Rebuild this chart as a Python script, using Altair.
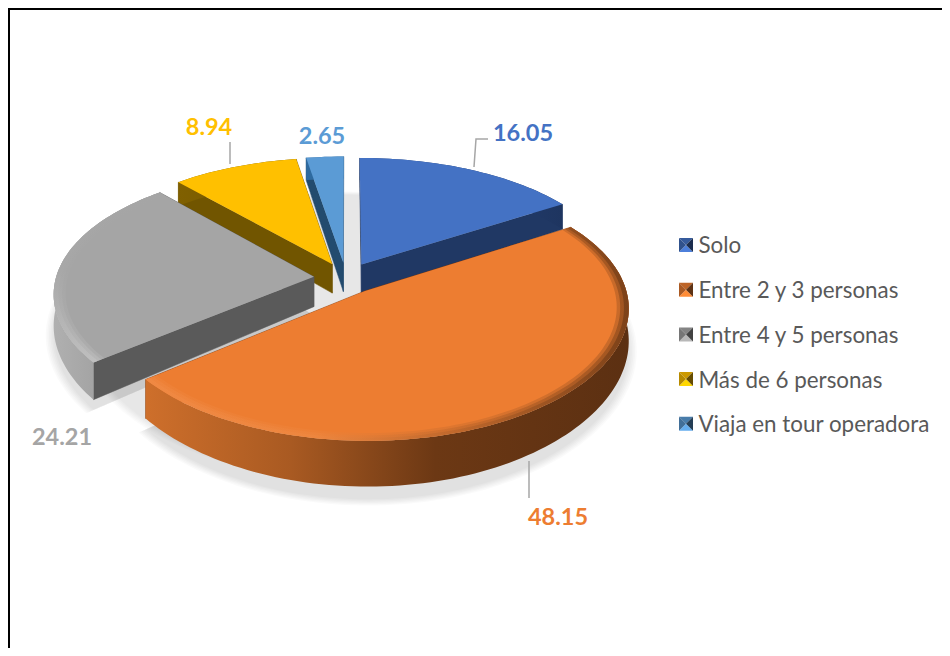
import math
import altair as alt
import pandas as pd

categories = ["Solo", "Entre 2 y 3 personas", "Entre 4 y 5 personas", "Más de 6 personas", "Viaja en tour operadora"]
values = [16.05, 48.15, 24.21, 8.94, 2.65]
labels = ["16.05", "48.15", "24.21", "8.94", "2.65"]
top_colors = ["#4472C4", "#ED7D31", "#A5A5A5", "#FFC000", "#5B9BD5"]
wall_colors = ["#203864", "#843C0C", "#5A5A5A", "#715500", "#234B6E"]
label_colors = ["#4472C4", "#ED7D31", "#A5A5A5", "#FFC000", "#5B9BD5"]

# 3-D look of the pie (chart pixels)
CX, CY, A, B, KX, KY, K2, D, E = 338, 270, 258, 125, 0.125, 0.14, 0.313, 30, 0.125
W, H = 934, 640
# layout of labels and leader lines (chart pixels)
label_pos = [(515, 125.5), (550, 509.5), (54, 430), (201, 120), (314, 128.5)]
leaders = [[(466, 159), (468, 131), (480, 131)], [(521, 453), (521, 490)], [], [(222, 156), (222, 134)], []]
swatch_x, swatch_half = 678, 7
swatch_y = [237, 281.7, 326.4, 371.1, 415.8]


def slices():
    total = sum(values)
    start = 0.0
    out = []
    for v in values:
        end = start + v / total * 360
        out.append((start, end))
        start = end
    return out


SL = slices()


def pt(theta, r, mid, z=0.0, e=E):
    t, m = math.radians(theta), math.radians(mid)
    x = r * math.sin(t) + e * math.sin(m)
    y = r * math.cos(t) + e * math.cos(m)
    return [CX + A * x / (1 + KX * y), CY - B * y / (1 + KY * y) + z * D / (1 + K2 * y)]


def arc(s, t, r, z, mid, e=E):
    n = max(3, int((t - s) / 1.5))
    return [pt(s + (t - s) * i / n, r, mid, z, e) for i in range(n + 1)]


def feature(ring):
    return {"type": "Feature", "properties": {},
            "geometry": {"type": "Polygon", "coordinates": [ring + [ring[0]]]}}


def shape(ring, **mark):
    return (alt.Chart(alt.Data(values=[feature(ring)]))
            .mark_geoshape(**mark)
            .project(type="identity", scale=1, translate=[0, 0]))


def grad(*stops, vertical=False):
    return {"gradient": "linear", "x1": 0, "x2": 0 if vertical else 1, "y1": 0, "y2": 1 if vertical else 0,
            "stops": [{"offset": o, "color": c} for o, c in stops]}


def shade(hex_color, f):
    rgb = [int(hex_color[i:i + 2], 16) for i in (1, 3, 5)]
    return "#" + "".join(f"{min(255, int(c * f)):02x}" for c in rgb)


def text_mark(txt, x, y, **kw):
    return (alt.Chart(alt.Data(values=[{"t": txt}]))
            .mark_text(**kw)
            .encode(text="t:N", x=alt.value(x), y=alt.value(y)))


layers = []

# frame
layers.append(alt.Chart(alt.Data(values=[{}])).mark_rule(color="#000000", strokeWidth=2)
              .encode(x=alt.value(1), y=alt.value(0), y2=alt.value(H)))
layers.append(alt.Chart(alt.Data(values=[{}])).mark_rule(color="#000000", strokeWidth=2)
              .encode(y=alt.value(1), x=alt.value(0), x2=alt.value(W)))

# soft shadow
for g in (1.03, 1.024, 1.018, 1.012, 1.006, 1.0):
    layers.append(shape(arc(0, 360, g, 1.15, 0, 0.0), fill="#000000", opacity=0.017))
    for (s, t) in SL[:3]:
        mid = (s + t) / 2
        ring = arc(s, t, g, 1.28, mid) + [pt(mid, 0, mid, 1.28)]
        layers.append(shape(ring, fill="#000000", opacity=0.02))

outer_fill = [
    grad((0, "#2A4A85"), (1, "#1E3560")),
    grad((0, "#CE6F2B"), (0.3, "#A95A22"), (0.6, "#6C3814"), (1, "#5C3012")),
    grad((0, "#B0B0B0"), (0.5, "#A0A0A0"), (1, "#858585")),
    grad((0, "#806000"), (1, "#715500")),
    grad((0, "#2E6A9F"), (1, "#2E6A9F")),
]
band_fill = [
    None,
    grad((0, "#F08A45"), (0.35, "#EE8740"), (0.65, "#B8642A"), (1, "#6E3A16")),
    grad((0, "#A5A5A5"), (0.45, "#A8A8A8"), (1, "#C2C2C2"), vertical=True),
    None,
    None,
]

for i in (4, 3, 0, 2, 1):
    s, t = SL[i]
    mid = (s + t) / 2
    apex_t, apex_b = pt(mid, 0, mid, 0), pt(mid, 0, mid, 1)
    walls = []
    for ang in (s, t):
        rim_t, rim_b = pt(ang, 1, mid, 0), pt(ang, 1, mid, 1)
        walls.append((rim_t[1], [apex_t, rim_t, rim_b, apex_b]))
    walls.sort(key=lambda w: w[0])
    for _, ring in walls:
        layers.append(shape(ring, fill=wall_colors[i], stroke=wall_colors[i], strokeWidth=0.5))
    ring = arc(s, t, 1, 0, mid) + arc(s, t, 1, 1, mid)[::-1]
    layers.append(shape(ring, fill=outer_fill[i]))
    layers.append(shape(arc(s, t, 1, 0, mid) + [apex_t], fill=top_colors[i]))
    if band_fill[i] is not None:
        for r_in, op in ((0.955, 0.3), (0.968, 0.45), (0.982, 0.7)):
            ring = arc(s, t, 1.0, 0, mid) + arc(s, t, r_in, 0, mid)[::-1]
            layers.append(shape(ring, fill=band_fill[i], opacity=op))

# leader lines and data labels
for i, v in enumerate(values):
    if leaders[i]:
        line = [list(p) for p in leaders[i]]
        layers.append(alt.Chart(alt.Data(values=[{"type": "Feature", "properties": {},
                      "geometry": {"type": "LineString", "coordinates": line}}]))
                      .mark_geoshape(filled=False, stroke="#A6A6A6", strokeWidth=1.5)
                      .project(type="identity", scale=1, translate=[0, 0]))
    x, y = label_pos[i]
    layers.append(text_mark(labels[i], x, y, font="Lato", fontSize=23.5,
                            fontWeight="bold", color=label_colors[i], align="center", baseline="middle"))

# legend (its swatches are drawn as pyramid facets just below)
legend_df = pd.DataFrame({"cat": categories})
layers.append(alt.Chart(legend_df).mark_square().encode(
    x=alt.value(-60), y=alt.value(-60),
    color=alt.Color("cat:N", sort=categories,
                    scale=alt.Scale(domain=categories, range=top_colors),
                    legend=alt.Legend(title=None, orient="none", legendX=667, legendY=227,
                                      symbolType="square", symbolSize=196, symbolStrokeWidth=0,
                                      labelFont="Lato", labelFontSize=22.4, labelColor="#595959",
                                      labelOffset=1, rowPadding=21.8, padding=0,
                                      labelLimit=300, symbolOpacity=0))))

for c, yc in zip(top_colors, swatch_y):
    l, r = swatch_x - swatch_half, swatch_x + swatch_half
    t, b = yc - swatch_half, yc + swatch_half
    m = [swatch_x, yc]
    layers.append(shape([[l, t], [r, t], m], fill=shade(c, 0.8)))
    layers.append(shape([[l, b], [r, b], m], fill=shade(c, 1.12)))
    layers.append(shape([[l, t], [l, b], m], fill=shade(c, 0.72)))
    layers.append(shape([[r, t], [r, b], m], fill=shade(c, 0.4)))

chart = alt.layer(*layers).properties(
    width=W, height=H, padding=0, autosize=alt.AutoSizeParams(type="none"),
    background="white",
).configure_view(stroke=None)

chart.save("out.html", embed_options={"renderer": "svg", "actions": False})
